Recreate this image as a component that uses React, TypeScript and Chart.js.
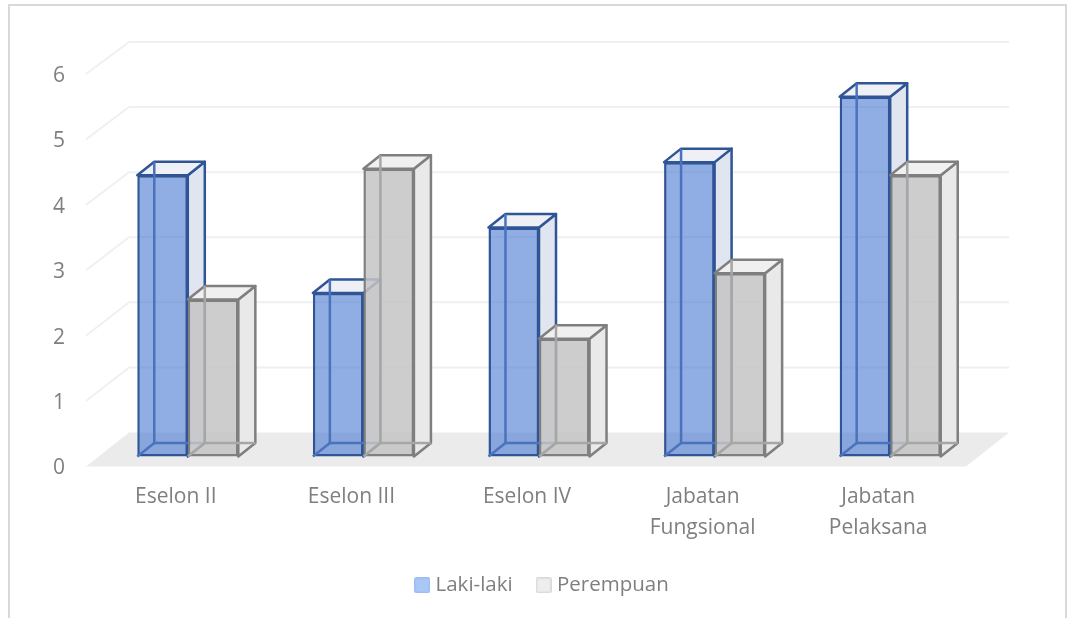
import React, { useEffect, useRef } from "react";
import { Chart, registerables } from "chart.js";

Chart.register(...registerables);

const categories = ["Eselon II", "Eselon III", "Eselon IV", ["Jabatan", "Fungsional"], ["Jabatan", "Pelaksana"]];
const lakiLaki = [4.3, 2.5, 3.5, 4.5, 5.5];
const perempuan = [2.4, 4.4, 1.8, 2.8, 4.3];
const seriesNames = ["Laki-laki", "Perempuan"];

const FONT = "'Open Sans', sans-serif";
const TEXT = "#7f7f7f";
const DX = 17;
const DY = -13.5;
const EDGE = 2.5;

const faceStyles = [
  { line: "#2f5597", inner: "#4a72bd", side: "#e0e5f0", top: "#eef0f6" },
  { line: "#7f7f7f", inner: "#a6a6a6", side: "#e9e9e9", top: "#f0f0f0" },
];

function legendSwatch(fill: string, line: string) {
  const c = document.createElement("canvas");
  c.width = 16;
  c.height = 16;
  const g = c.getContext("2d")!;
  g.fillStyle = fill;
  g.strokeStyle = line;
  g.lineWidth = 1.5;
  g.beginPath();
  g.roundRect(0.75, 0.75, 14.5, 14.5, 1.5);
  g.fill();
  g.stroke();
  return c;
}

function path(ctx: CanvasRenderingContext2D, pts: number[][], close = true) {
  ctx.beginPath();
  pts.forEach((p, i) => (i ? ctx.lineTo(p[0], p[1]) : ctx.moveTo(p[0], p[1])));
  if (close) ctx.closePath();
}

const scene3d = {
  id: "scene3d",
  afterLayout(chart: any) {
    const lg = chart.legend;
    lg.left = 0;
    lg.right = 1088;
    lg.top = 547;
  },
  beforeDraw(chart: any) {
    const ctx = chart.ctx;
    ctx.save();
    ctx.strokeStyle = "#d9d9d9";
    ctx.lineWidth = 2;
    ctx.strokeRect(9, 5, 1057, 700);
    ctx.restore();
  },
  beforeDatasetsDraw(chart: any) {
    const ctx = chart.ctx;
    const { left, right } = chart.chartArea;
    const y = chart.scales.y;
    const y0 = y.getPixelForValue(0);
    const backY = (p: number) => y0 - 24 + (p - y0) * 0.995;
    ctx.save();
    ctx.fillStyle = "#ebebeb";
    path(ctx, [
      [left - 14, y0 + 10],
      [left + 29, backY(y0)],
      [right + 31, backY(y0)],
      [right - 12, y0 + 10],
    ]);
    ctx.fill();
    ctx.strokeStyle = "#f0f0f0";
    ctx.lineWidth = 2;
    y.ticks.forEach((t: any) => {
      if (t.value === 0) return;
      const p = y.getPixelForValue(t.value);
      path(ctx, [[left - 14, p + 10], [left + 29, backY(p)], [right + 31, backY(p)]], false);
      ctx.stroke();
    });
    ctx.restore();
    // Laki-laki first, so that Perempuan sits in front of it as in the reference.
    [0, 1].forEach((i) => chart._drawDataset(chart.getDatasetMeta(i)));
    return false;
  },
  beforeDatasetDraw(chart: any, args: any) {
    const ctx = chart.ctx;
    const st = faceStyles[args.index];
    ctx.save();
    ctx.lineWidth = EDGE;
    ctx.lineJoin = "round";
    args.meta.data.forEach((b: any) => {
      const l = b.x - b.width / 2;
      const r = b.x + b.width / 2;
      const t = b.y;
      const s = b.base;
      ctx.strokeStyle = st.line;
      ctx.fillStyle = st.side;
      path(ctx, [[r, t], [r + DX, t + DY], [r + DX, s + DY], [r, s]]);
      ctx.fill();
      ctx.stroke();
      ctx.fillStyle = st.top;
      path(ctx, [[l, t], [l + DX, t + DY], [r + DX, t + DY], [r, t]]);
      ctx.fill();
      ctx.stroke();
    });
    ctx.restore();
  },
  afterDatasetDraw(chart: any, args: any) {
    const ctx = chart.ctx;
    const st = faceStyles[args.index];
    ctx.save();
    ctx.lineWidth = EDGE;
    ctx.strokeStyle = st.inner;
    args.meta.data.forEach((b: any) => {
      const l = b.x - b.width / 2;
      const r = b.x + b.width / 2;
      path(ctx, [[l + DX, b.y + DY], [l + DX, b.base + DY], [r + DX, b.base + DY]], false);
      ctx.stroke();
      path(ctx, [[l + DX, b.base + DY], [l, b.base]], false);
      ctx.stroke();
    });
    ctx.restore();
  },
};

export default function App() {
  const ref = useRef<HTMLCanvasElement>(null);
  useEffect(() => {
    const swatches = [legendSwatch("#a9c8f8", "#9dbdf0"), legendSwatch("#eeeeee", "#d9d9d9")];
    const chart = new Chart(ref.current!, {
      type: "bar",
      data: {
        labels: categories as any,
        datasets: [
          {
            label: seriesNames[0],
            data: lakiLaki,
            backgroundColor: "rgba(72,120,210,0.6)",
            borderColor: "#2f5597",
            borderWidth: EDGE,
            borderSkipped: false,
          },
          {
            label: seriesNames[1],
            data: perempuan,
            backgroundColor: "rgba(196,196,196,0.85)",
            borderColor: "#7f7f7f",
            borderWidth: EDGE,
            borderSkipped: false,
          },
        ],
      },
      options: {
        animation: false,
        responsive: false,
        devicePixelRatio: 1,
        layout: { padding: { top: 64, right: 90, left: 0, bottom: 0 } },
        datasets: { bar: { categoryPercentage: 0.5755, barPercentage: 1, clip: false as any } },
        scales: {
          x: {
            grid: { display: false },
            border: { display: false },
            afterFit: (s: any) => {
              s.height = 103;
            },
            ticks: {
              color: TEXT,
              font: { family: FONT, size: 21, lineHeight: 1.43 },
              labelOffset: -12,
              padding: 18,
              maxRotation: 0,
              autoSkip: false,
            },
          },
          y: {
            min: 0,
            max: 6,
            grid: { display: false },
            border: { display: false },
            afterFit: (s: any) => {
              s.width = 100;
            },
            ticks: {
              stepSize: 1,
              color: TEXT,
              font: { family: FONT, size: 21 },
              labelOffset: 12,
              padding: 27,
            },
          },
        },
        plugins: {
          tooltip: { enabled: false },
          title: { display: false },
          legend: {
            position: "bottom",
            labels: {
              color: TEXT,
              font: { family: FONT, size: 20.5 },
              usePointStyle: true,
              boxWidth: 6,
              boxHeight: 16,
              padding: 28,
              generateLabels: (c: any) =>
                Chart.defaults.plugins.legend.labels.generateLabels(c).map((it: any, i: number) => ({
                  ...it,
                  pointStyle: swatches[i],
                })),
            },
          },
        },
      },
      plugins: [scene3d],
    } as any);
    return () => chart.destroy();
  }, []);
  return (
    <canvas
      ref={ref}
      width={1068}
      height={618}
      style={{ position: "absolute", left: 0, top: 0, display: "block" }}
    />
  );
}
